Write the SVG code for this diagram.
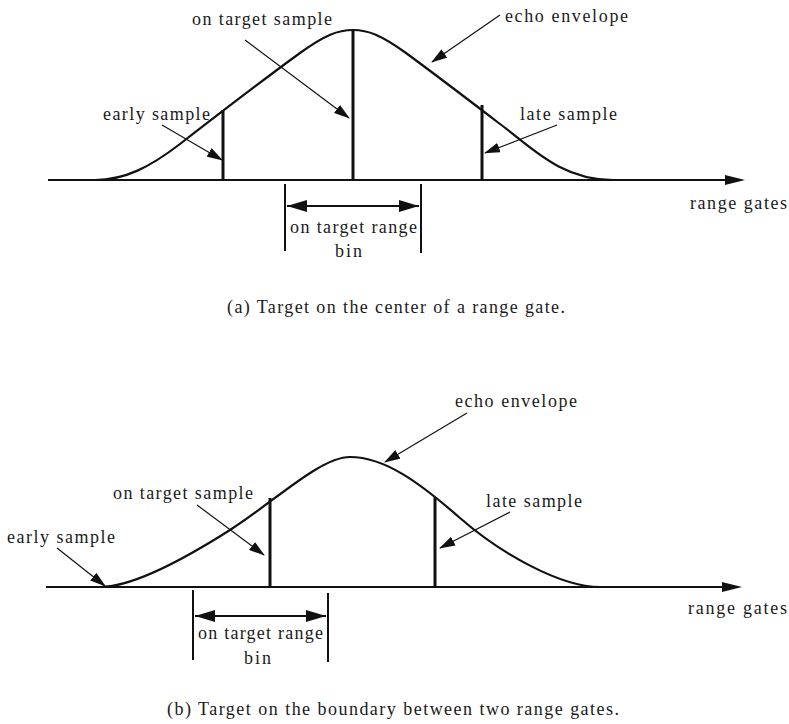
<svg xmlns="http://www.w3.org/2000/svg" width="789" height="724" viewBox="0 0 789 724" font-family="'Liberation Serif', 'Times New Roman', 'DejaVu Serif', serif">
<defs>
<style>
.t{font-family:'Liberation Serif','Times New Roman','DejaVu Serif',serif;font-size:18px;fill:#1a1a1a}
.curve{fill:none;stroke:#111;stroke-width:2.2}
.axis{stroke:#111;stroke-width:2}
.samp{stroke:#111;stroke-width:3}
.brk{stroke:#111;stroke-width:2}
.ptr{stroke:#111;stroke-width:1.2;fill:none;marker-end:url(#ah)}
.dbl{stroke:#111;stroke-width:2;marker-start:url(#bh2);marker-end:url(#bh)}
.head{fill:#111}
</style>
<marker id="ah" markerUnits="userSpaceOnUse" markerWidth="16" markerHeight="10" refX="15" refY="5" orient="auto">
<path d="M0,0 L16,5 L0,10 Z" fill="#111"/>
</marker>
<marker id="bh" markerUnits="userSpaceOnUse" markerWidth="20" markerHeight="12" refX="20" refY="6" orient="auto">
<path d="M0,0 L20,6 L0,12 Z" fill="#111"/>
</marker>
<marker id="bh2" markerUnits="userSpaceOnUse" markerWidth="20" markerHeight="12" refX="0" refY="6" orient="auto">
<path d="M20,0 L0,6 L20,12 Z" fill="#111"/>
</marker>
</defs>
<rect width="789" height="724" fill="#ffffff"/>

<!-- Panel (a) -->
<g id="a-axis">
<line class="axis" x1="48" y1="180" x2="727" y2="180"/>
<polygon class="head" points="725,175 745,180 725,185"/>
<text class="t" x="690" y="209" textLength="97">range gates</text>
</g>
<g id="a-envelope">
<path class="curve" d="M95,180 C125,180 150,167 180,144 C220,113 260,82 300,53 C325,35 338,30 353,30 C368,30 381,35 406,53 C440,78 470,101 500,124 C530,146 560,180 613,180"/>
<text class="t" x="505" y="22" textLength="123">echo envelope</text>
</g>
<g id="a-early">
<line class="samp" x1="223" y1="110" x2="223" y2="181"/>
<text class="t" x="103" y="120" textLength="107">early sample</text>
</g>
<g id="a-ontarget">
<line class="samp" x1="353" y1="30" x2="353" y2="181"/>
<text class="t" x="192" y="25" textLength="140">on target sample</text>
</g>
<g id="a-late">
<line class="samp" x1="482" y1="105" x2="482" y2="181"/>
<text class="t" x="520" y="120" textLength="97">late sample</text>
</g>
<g id="a-bin">
<line class="brk" x1="285" y1="184" x2="285" y2="251"/>
<line class="brk" x1="421" y1="184" x2="421" y2="253"/>
<text class="t" x="290" y="233" textLength="127">on target range</text>
<text class="t" x="335" y="257" textLength="27">bin</text>
</g>
<g id="a-caption">
<text class="t" x="227" y="313" textLength="338">(a) Target on the center of a range gate.</text>
</g>

<!-- Panel (b) -->
<g id="b-axis">
<line class="axis" x1="46" y1="587" x2="724" y2="587"/>
<polygon class="head" points="722,582 742,587 722,592"/>
<text class="t" x="688" y="614" textLength="99">range gates</text>
</g>
<g id="b-envelope">
<path class="curve" d="M85,587 L100,587 C130,587 175,565 230,530 C274,502 320,457 350,457 C385,457 420,483 460,518 C500,553 560,587 600,587 L620,587"/>
<text class="t" x="455" y="407" textLength="122">echo envelope</text>
</g>
<g id="b-early">
<text class="t" x="7" y="543" textLength="108">early sample</text>
</g>
<g id="b-ontarget">
<line class="samp" x1="270" y1="498" x2="270" y2="588"/>
<text class="t" x="113" y="499" textLength="140">on target sample</text>
</g>
<g id="b-late">
<line class="samp" x1="435" y1="497" x2="435" y2="588"/>
<text class="t" x="486" y="507" textLength="96">late sample</text>
</g>
<g id="b-bin">
<line class="brk" x1="193" y1="590" x2="193" y2="660"/>
<line class="brk" x1="328" y1="593" x2="328" y2="662"/>
<text class="t" x="198" y="639" textLength="125">on target range</text>
<text class="t" x="244" y="664" textLength="27">bin</text>
</g>
<g id="b-caption">
<text class="t" x="167" y="715" textLength="452">(b) Target on the boundary between two range gates.</text>
</g>

<g id="connectors">
<line class="ptr" x1="162" y1="125" x2="222" y2="160"/>
<line class="ptr" x1="245" y1="40" x2="349" y2="118"/>
<line class="ptr" x1="500" y1="15" x2="432" y2="62"/>
<line class="ptr" x1="557" y1="125" x2="485" y2="153"/>
<line class="dbl" x1="287" y1="206" x2="419" y2="206"/>
<line class="ptr" x1="57" y1="548" x2="105" y2="586"/>
<line class="ptr" x1="197" y1="505" x2="264" y2="555"/>
<line class="ptr" x1="467" y1="413" x2="385" y2="462"/>
<line class="ptr" x1="510" y1="512" x2="440" y2="548"/>
<line class="dbl" x1="195" y1="616" x2="326" y2="616"/>
</g>
</svg>
